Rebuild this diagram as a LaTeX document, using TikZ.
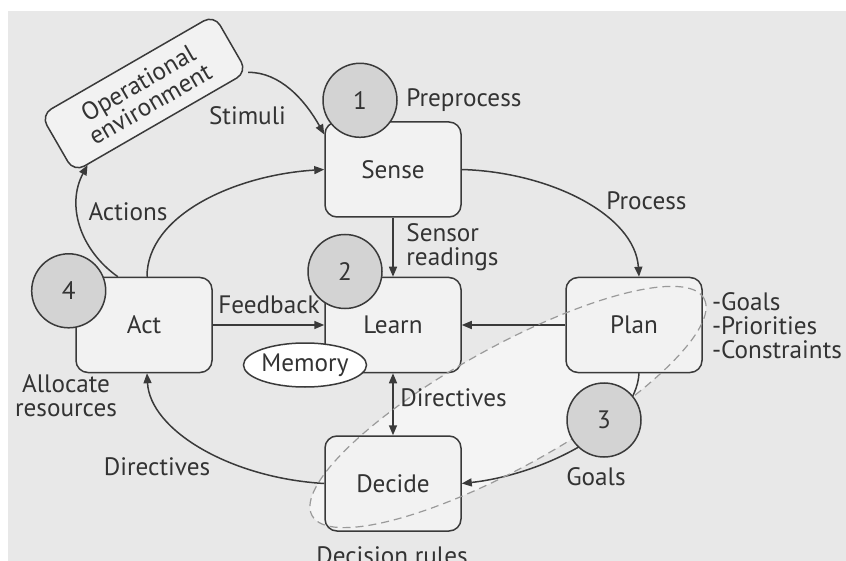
\documentclass[tikz,border=0pt]{standalone}
\usepackage{fontspec}
\setmainfont{PT Sans}
\usetikzlibrary{arrows.meta,positioning,calc,shapes.geometric}
\definecolor{bggray}{HTML}{E8E8E8}
\definecolor{zonefill}{HTML}{F4F4F4}
\definecolor{boxfill}{HTML}{F2F2F2}
\definecolor{stepfill}{HTML}{D3D3D3}
\definecolor{linegray}{HTML}{3A3A3A}
\definecolor{textgray}{HTML}{333333}
\definecolor{dashgray}{HTML}{9A9A9A}

\tikzset{
  stage/.style={draw=linegray, fill=boxfill, rounded corners=6pt, line width=0.75pt, minimum width=68pt, minimum height=47.5pt},
  stepnum/.style={circle, draw=linegray, fill=stepfill, line width=0.75pt, minimum size=37pt, inner sep=0pt},
  flow/.style={->, line width=0.75pt, draw=linegray},
  note/.style={inner sep=0pt},
  >={Triangle[length=5pt,width=4pt]}
}

\begin{document}
\begin{tikzpicture}[x=0.5pt, y=-0.5pt, every node/.style={font=\fontsize{12.6}{12}\selectfont, text=textgray}]
  \useasboundingbox (0,0) rectangle (846,561);
  \fill[bggray] (8,11) rectangle (846,561);

  %% planning zone (fill only, outline comes later)
  \fill[zonefill, rotate around={29:(508,407)}] (508,407) ellipse [x radius=224, y radius=60];

  %% stages
  \node[stage, rotate=30, minimum width=100pt, minimum height=33pt, align=center] (openv) at (144,93.5) {Operational\\environment};
  \node[stage] (sense)  at (393,169.5) {Sense};
  \node[stage] (learn)  at (393,325)   {Learn};
  \node[stage] (act)    at (144,325)   {Act};
  \node[stage] (plan)   at (634,325)   {Plan};
  \node[stage] (decide) at (393,483.5) {Decide};

  %% connectors
  \draw[flow] (openv.south east) .. controls (280,72) and (305,100) .. (sense.153);
  \draw[flow] ($(act.north west)!0.31!(act.north east)$) .. controls (80,250) and (66,205) .. ($(openv.south west)!0.08!(openv.south east)$);
  \draw[flow] ($(act.north)+(3,0)$) .. controls (147,215) and (235,175) .. (sense.west);
  \draw[flow] (sense.east) .. controls (550,172) and (635,215) .. ($(plan.north)+(5,0)$);
  \draw[flow] (sense.south) -- (learn.north);
  \draw[flow] (act.east) -- (learn.west);
  \draw[flow] (plan.west) -- (learn.east);
  \draw[flow, <->] (learn.south) -- (decide.north);
  \draw[flow] ($(plan.south)+(5,0)$) .. controls (636,430) and (540,475) .. (decide.east);
  \draw[flow] (decide.west) .. controls (230,478) and (150,430) .. ($(act.south)+(3,0)$);

  %% planning zone outline
  \draw[dashgray, line width=0.6pt, dash pattern=on 4pt off 2.5pt, rotate around={29:(508,407)}] (508,407) ellipse [x radius=224, y radius=60];

  %% step numbers
  \node[stepnum] (n1) at (360,100.3)  {1};
  \node[stepnum] (n2) at (345,271.5)  {2};
  \node[stepnum] (n3) at (604,420)    {3};
  \node[stepnum] (n4) at (68.7,290.8) {4};

  \node[ellipse, draw=linegray, fill=white, line width=0.75pt, minimum width=56.5pt, minimum height=22pt, inner sep=0pt] (memory) at (305,365) {Memory};

  %% labels
  \node[note, anchor=base west] (preproc) at (406,106.7) {Preprocess};
  \node[note, anchor=base] (stimuli) at (247.5,125) {Stimuli};
  \node[note, anchor=base] (actions) at (128,220.7) {Actions};
  \node[note, anchor=base] (process) at (646.5,210) {Process};
  \node[note, anchor=base west, align=left] (readings) at (406,265.5) {Sensor\\readings};
  \node[note, anchor=base] (feedback) at (269,313.3) {Feedback};
  \node[note, anchor=base west] (dirmid) at (400,406.7) {Directives};
  \node[note, anchor=base] (goals) at (596,485) {Goals};
  \node[note, anchor=base west, align=left] (limits) at (711.7,358.3) {-Goals\\-Priorities\\-Constraints};
  \node[note, anchor=base, align=center] (alloc) at (66,416.7) {Allocate\\resources};
  \node[note, anchor=base] (dirleft) at (157,475.7) {Directives};
  \node[note, anchor=base] (rules) at (392,564) {Decision rules};
\end{tikzpicture}
\end{document}
